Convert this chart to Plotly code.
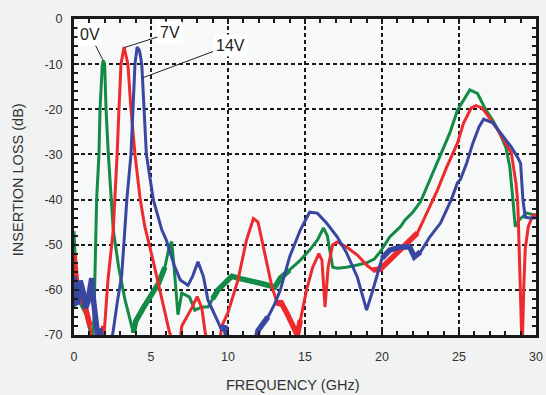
import plotly.graph_objects as go

# ---- data ----
green_f = [0, 0.1, 0.4, 0.8, 1.1, 1.2, 1.3, 1.38, 1.47, 1.62, 1.69, 1.84, 1.9, 1.99, 2.08, 2.23, 2.4,
           2.55, 2.9, 3.3, 3.85, 4.0, 4.5, 5.0, 5.5, 5.9, 6.15, 6.34, 6.5, 6.75, 7.0, 7.5, 7.85, 8.3,
           8.7, 9.0, 9.35, 10.0, 10.25, 10.8, 11.6, 12.3, 13.05, 13.4, 14.0, 14.7, 15.3, 15.8, 16.2,
           16.45, 16.6, 16.8, 17.1, 17.7, 18.4, 19.0, 19.5, 19.9, 20.5, 21.2, 21.5, 22.0, 22.5, 23.1,
           23.8, 24.4, 24.9, 25.4, 25.7, 26.2, 26.75, 27.2, 27.6, 28.05, 28.3, 28.5, 28.65, 28.9, 29.4,
           29.9, 30]
green_db = [-47, -55, -63, -65.6, -70, -72, -66, -55, -40, -30, -20, -10, -9.2, -10, -20, -30, -40,
            -46.7, -55, -62, -69.5, -67, -64, -61, -58.5, -55, -51, -49.3, -55, -65.5, -60.7, -61.6,
            -64.5, -63.8, -63.8, -62, -60, -57.8, -57, -57.5, -58.3, -58.7, -59.4, -57.4, -55.6, -53.4,
            -51.2, -49, -46.3, -48, -51, -55, -55.2, -55, -54.5, -54, -53.2, -51.5, -48.3, -46, -44.5,
            -42.8, -40.5, -35.7, -30.5, -25.3, -20.2, -17.2, -15.7, -16.5, -20.2, -22.5, -25, -28.5,
            -32.8, -40, -46, -44.5, -43, -43.4, -43.4]

red_f = [0, 0.15, 0.4, 0.7, 1.04, 1.2, 1.7, 1.85, 1.95, 2.2, 2.55, 2.66, 2.8, 2.92, 3.05, 3.25, 3.5,
         3.7, 3.96, 4.3, 4.6, 5.1, 5.6, 6.0, 6.2, 6.4, 6.9, 7.0, 7.65, 8.0, 8.3, 8.5, 8.7, 9.4, 9.6,
         10.0, 10.65, 11.2, 11.65, 11.95, 12.4, 12.85, 13.25, 13.4, 13.8, 14.2, 14.5, 14.7, 15.1,
         15.5, 15.9, 16.1, 16.3, 16.5, 16.8, 17.1, 17.7, 18.4, 19.0, 19.4, 19.9, 20.5, 21.2, 21.8,
         22.3, 22.7, 23.3, 23.6, 24.2, 24.9, 25.3, 25.8, 26.1, 26.5, 27.0, 27.5, 27.9, 28.4, 28.7,
         28.8, 28.85, 28.95, 29.05, 29.1, 29.2, 29.3, 29.5, 29.8, 30]
red_db = [-52, -58, -61, -63.4, -68, -72, -72, -68, -70, -58, -46.7, -40, -30, -20, -10, -6.2, -10,
          -20, -30, -40, -46, -53, -60.5, -66.3, -69.4, -71, -71, -68, -64, -61.5, -64, -69, -73, -73,
          -68, -65, -57.8, -49, -44.2, -45, -52, -59.3, -63.5, -62.5, -65, -68, -70, -66.7, -60, -55,
          -52, -53.4, -63.8, -55, -50, -49.4, -50.5, -52.3, -54.5, -55.6, -55.4, -53.4, -51.2, -49,
          -47.4, -44.5, -40, -37.9, -32.8, -27.5, -23, -19.7, -19.2, -19.7, -22, -24.5, -26.8, -29.7,
          -36.4, -40, -44, -60, -70, -74, -60, -51, -46, -43.4, -43.4]

blue_f = [0, 0.1, 0.25, 0.4, 0.6, 0.75, 0.9, 1.15, 1.25, 1.5, 1.6, 1.75, 1.9, 2.4, 2.55, 2.8, 3.1,
          3.3, 3.43, 3.7, 3.85, 3.96, 4.1, 4.25, 4.4, 4.55, 4.7, 5.15, 5.7, 6.0, 6.5, 6.9, 7.4, 7.7,
          8.05, 8.4, 8.7, 9.3, 9.6, 9.8, 10.0, 11.8, 11.95, 12.6, 13.05, 13.4, 14.0, 14.7, 15.3, 15.8,
          16.4, 17.1, 17.7, 18.4, 18.8, 19.0, 19.35, 19.7, 20.0, 20.5, 21.2, 21.8, 22.1, 22.5, 23.1,
          23.8, 24.5, 24.9, 25.1, 25.5, 25.9, 26.3, 26.6, 27.2, 27.9, 28.4, 28.8, 29.0, 29.15, 29.3,
          29.6, 30]
blue_db = [-57, -63, -62.7, -58, -60.5, -64, -62.7, -57.4, -61.8, -68, -72, -68.5, -72, -72, -69, -63,
           -56.7, -46.7, -40, -30, -20, -10, -6.2, -7, -10, -20, -30, -40, -46.7, -49, -54.5, -57.8,
           -59, -57, -53.8, -57, -62.3, -66.7, -69, -68, -72, -72, -69, -66, -63, -60, -52.7, -46.7,
           -42.8, -43, -45.2, -48.3, -51.8, -57.2, -62.3, -64.5, -60.7, -56.3, -53, -51.2, -50.5,
           -50.5, -52.7, -51.6, -48.3, -45.2, -40, -36.3, -35.5, -31.9, -27.5, -23.9, -22.2, -23, -26,
           -28.4, -30.6, -32, -40, -43.9, -44.1, -44]

x_ticks = [0, 5, 10, 15, 20, 25, 30]
y_ticks = [-70, -60, -50, -40, -30, -20, -10, 0]

labels = ["0V", "7V", "14V"]
label_pos = [(1.04, -3.5), (6.23, -3.1), (10.13, -5.8)]
label_tip = [(1.9, -9.2), (3.3, -6.3), (4.48, -13)]

x_title = "FREQUENCY (GHz)"
y_title = "INSERTION LOSS (dB)"

# frequency spans where the measured trace is visibly noisy (drawn as a wider band)
green_noisy = [(3.85, 6.1), (9.0, 14.0)]
red_noisy = [(0.0, 1.1), (13.2, 14.8), (19.4, 22.5)]
blue_noisy = [(0.0, 1.6), (9.5, 12.6), (19.9, 22.6)]

GREEN, RED, BLUE = "#138a45", "#ee2a2e", "#3947a2"
FONT = "Liberation Sans, Arial, Helvetica"

fig = go.Figure()
series = [(green_f, green_db, GREEN, green_noisy),
          (red_f, red_db, RED, red_noisy),
          (blue_f, blue_db, BLUE, blue_noisy)]
for f, d, c, spans in series:
    fig.add_trace(go.Scatter(x=f, y=d, mode="lines", line=dict(color=c, width=3),
                             showlegend=False, hoverinfo="skip"))
    for lo, hi in spans:
        idx = [i for i, v in enumerate(f) if lo <= v <= hi]
        fig.add_trace(go.Scatter(x=[f[i] for i in idx], y=[d[i] for i in idx], mode="lines",
                                 line=dict(color=c, width=5.5), showlegend=False,
                                 hoverinfo="skip"))

for t, (tx, ty), (px, py) in zip(labels, label_pos, label_tip):
    fig.add_annotation(x=px, y=py, ax=tx, ay=ty, xref="x", yref="y", axref="x", ayref="y",
                       text=t, showarrow=True, arrowhead=0, arrowwidth=1, arrowcolor="#222",
                       bgcolor="white", borderpad=2,
                       font=dict(family=FONT, size=16, color="#222"))

# axis titles
fig.add_annotation(text=x_title, xref="paper", yref="paper", x=0.474, y=0, yshift=-50,
                   xanchor="center", yanchor="middle", showarrow=False,
                   font=dict(family=FONT, size=14.5, color="#333"))
fig.add_annotation(text=y_title, xref="paper", yref="paper", x=0, y=0.49, xshift=-56,
                   xanchor="center", yanchor="middle", textangle=-90, showarrow=False,
                   font=dict(family=FONT, size=14.5, color="#333"))

axis_common = dict(
    showline=True, linewidth=3, linecolor="#1a1a1a", mirror="ticks",
    ticks="inside", ticklen=5, tickwidth=1.5, tickcolor="#1a1a1a",
    showgrid=True, gridcolor="#1a1a1a", gridwidth=2, griddash="4px,3px",
    zeroline=False, automargin=False,
    tickfont=dict(family=FONT, size=12.5, color="#333"),
)

fig.update_xaxes(range=[0, 30], tickvals=x_ticks, ticktext=[str(v) for v in x_ticks],
                 minor=dict(dtick=1, ticks="inside", ticklen=4, tickcolor="#1a1a1a", showgrid=False),
                 ticklabelstandoff=8, **axis_common)
fig.update_yaxes(range=[-70, 0], tickvals=y_ticks, ticktext=[str(v) for v in y_ticks],
                 minor=dict(dtick=2, ticks="inside", ticklen=4, tickcolor="#1a1a1a", showgrid=False),
                 ticklabelstandoff=6, **axis_common)

fig.update_layout(
    width=546, height=395,
    margin=dict(l=74, r=10, t=19, b=60),
    paper_bgcolor="#f1f2f2", plot_bgcolor="#f7f8f8",
)

fig.write_html("out.html", config={"displayModeBar": False},
               post_script="document.body.style.margin='0';document.body.style.overflow='hidden';")
